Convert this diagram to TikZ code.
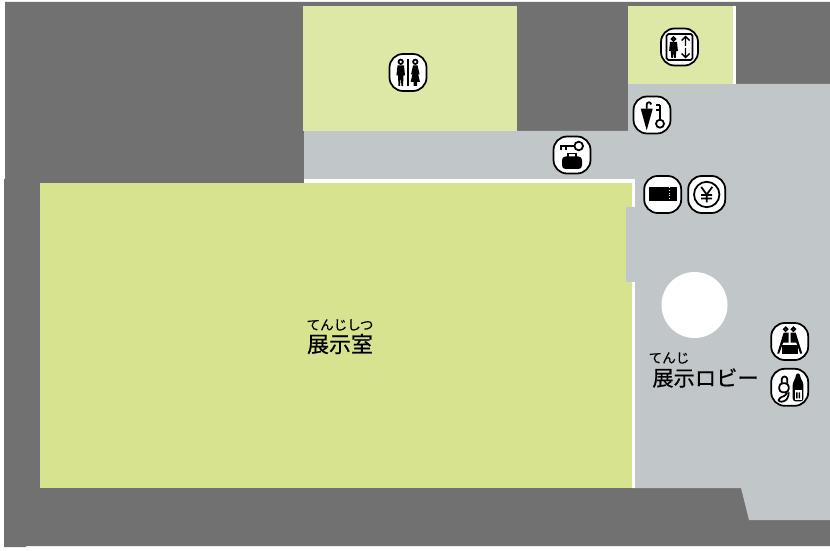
\documentclass[tikz,border=0pt]{standalone}
\usepackage{fontspec}
\newfontfamily\jpfont[FakeBold=.6]{Noto Sans CJK JP}
\newfontfamily\rubyfont[FakeBold=.3]{Noto Sans CJK JP}
\definecolor{wallgray}{HTML}{717171}
\definecolor{lobbygray}{HTML}{C1C6C9}
\definecolor{hallgreen}{HTML}{D7E38F}
\definecolor{roomgreen}{HTML}{DEE8A6}
\tikzset{
  iconbox/.style={draw=black,fill=white,line width=1pt,rounded corners=.27cm,minimum size=.74cm,inner sep=0pt},
  bigtext/.style={inner sep=0pt,font=\jpfont\fontsize{12.5}{13}\selectfont},
  lobbytext/.style={inner sep=0pt,font=\jpfont\fontsize{12.1}{13}\selectfont},
  rubytext/.style={inner sep=0pt,font=\rubyfont\fontsize{7.7}{8}\selectfont},
  glyph/.style={line width=1pt,draw=black},
  ring/.style={line width=1pt,draw=black,fill=white}
}
\begin{document}
\begin{tikzpicture}[x=.02cm,y=-.02cm]
\useasboundingbox (0,0) rectangle (830,550);
\fill[wallgray] (5,2) -- (830,2) -- (830,546) -- (26,546) -- (26,547) -- (4,547) -- (4,179) -- (5,179) -- cycle;
\fill[lobbygray] (304,131) -- (628,131) -- (628,84) -- (830,84) -- (830,520) -- (749,520) -- (741,488) -- (632,488) -- (632,183) -- (304,183) -- cycle;
\fill[white] (304,179) rectangle (635,183);
\fill[white] (632,179) rectangle (635,488);
\fill[hallgreen] (40,183) rectangle (632,488);
\fill[lobbygray] (626,207) rectangle (636,282);
\fill[roomgreen] (303,6) rectangle (517,131);
\fill[roomgreen] (628,6) rectangle (733,84);
\fill[white] (733,6) rectangle (736,84);
\fill[white] (694.5,305) circle (33);

\node[rubytext] (hallruby) at (340,325) {てんじしつ};
\node[bigtext] (hallname) at (340,344) {展示室};
\node[rubytext] (lobbyruby) at (669,358) {てんじ};
\node[lobbytext] (lobbyname) at (705.5,378) {展示ロビー};

\node[iconbox] (toilet) at (408,72.5) {};
\node[iconbox] (elevator) at (679.5,47) {};
\node[iconbox] (umbrella) at (652,115) {};
\node[iconbox] (locker) at (572,155) {};
\node[iconbox] (ticket) at (662.7,194.5) {};
\node[iconbox] (yen) at (706.7,194.5) {};
\node[iconbox] (rest) at (789.7,341.5) {};
\node[iconbox] (drink) at (789.7,387.3) {};

\begin{scope}[shift={(408,72.5)}]
\draw[glyph] (-7.3,-10.7) circle (2.2);
\draw[glyph] (7.3,-10.7) circle (2.2);
\draw[glyph] (0,-13) -- (0,13.5);
\fill (-10.5,-7) -- (-4,-7) -- (-3,3) -- (-4.5,3) -- (-5,13.5) -- (-6.6,13.5) -- (-7.2,4) -- (-8,13.5) -- (-9.5,13.5) -- (-10,3) -- (-11.6,3) -- cycle;
\fill (5,-7) -- (9.6,-7) -- (11.6,2) -- (10.2,2) -- (12,9.5) -- (9.2,9.5) -- (9.2,13.5) -- (5.6,13.5) -- (5.6,9.5) -- (2.6,9.5) -- (4.4,2) -- (3,2) -- cycle;
\end{scope}

\begin{scope}[shift={(679.5,47)}]
\draw[glyph,rounded corners=1pt] (-13,-13) rectangle (13,13);
\draw[glyph] (-6,-8) circle (1.9);
\fill (-9.5,-5) -- (-2.5,-5) -- (-1.6,4) -- (-3.2,4) -- (-3.8,11) -- (-5.4,11) -- (-6,5) -- (-6.6,11) -- (-8.2,11) -- (-8.8,4) -- (-10.4,4) -- cycle;
\draw[line width=.8pt] (6,-1) -- (6,-10.5) (2,-6.5) -- (6,-10.5) -- (10,-6.5);
\draw[line width=.8pt] (6,1) -- (6,10.5) (2,6.5) -- (6,10.5) -- (10,6.5);
\end{scope}

\begin{scope}[shift={(652,115)}]
\fill (-11.3,-6.3) -- (.7,-6.3) -- (-5.3,15.3) -- cycle;
\draw[glyph] (-5.3,-6.3) -- (-5.3,-10.5) arc (180:360:2.2);
\draw[glyph] (8,-9.7) -- (8,4.7) (8,-9.7) -- (3.5,-9.7) (8,-5) -- (3.5,-5);
\draw[ring] (8,8.7) circle (4);
\end{scope}

\begin{scope}[shift={(572,155)}]
\draw[ring] (6.7,-9) circle (4.3);
\draw[glyph] (2.4,-9) -- (-11.7,-9) (-11,-9) -- (-11,-5) (-6,-9) -- (-6,-5);
\draw[glyph] (-4.3,2.5) -- (-4.3,-1.5) -- (4.3,-1.5) -- (4.3,2.5);
\fill[rounded corners=2pt] (-10,1.5) rectangle (10,14);
\end{scope}

\begin{scope}[shift={(662.7,194.5)}]
\fill (-13.7,-7) rectangle (14,7);
\draw[white,line width=.5pt,densely dotted] (6.3,-7) -- (6.3,7);
\end{scope}

\begin{scope}[shift={(706.7,194.5)}]
\draw[glyph] (0,0) circle (12.7);
\draw[glyph] (-5.5,-7.5) -- (0,0) -- (5.5,-7.5) (0,0) -- (0,8) (-5.5,.5) -- (5.5,.5) (-5.5,4) -- (5.5,4);
\end{scope}

\begin{scope}[shift={(789.7,341.5)}]
\draw[glyph] (-4,-12.3) circle (1.8);
\draw[glyph] (3.7,-12.3) circle (1.8);
\fill (-6,-9) -- (-1.2,-9) -- (-1.2,1) -- (-6.5,1) -- (-10.5,12) -- (-12.5,12) -- cycle;
\fill (1,-9) -- (6,-9) -- (12.5,12) -- (10.5,12) -- (6.5,1) -- (1,1) -- cycle;
\fill (-8,3.5) rectangle (8.7,12);
\end{scope}

\begin{scope}[shift={(789.7,387.3)}]
\fill[rounded corners=1.5pt] (3,-5) -- (6,-9) -- (6,-14) -- (10.5,-14) -- (10.5,-9) -- (13.7,-5) -- (13.7,14) -- (3,14) -- cycle;
\fill[white] (4.8,2.7) rectangle (12,12.7);
\fill (6.5,5) rectangle (7.8,11) (9,5) rectangle (10.3,11);
\draw[glyph,rounded corners=2pt] (-10.5,-4) rectangle (-1,5);
\draw[glyph] (-8,-4) -- (-8,-8) arc (180:360:2.8) -- (-2.4,-4);
\draw[glyph] (-3,5) .. controls (-4,10) and (-7,8) .. (-10,11) .. controls (-13,14) and (-9,15) .. (-6,14) .. controls (-3,13) and (-1,10) .. (-1,5);
\end{scope}
\end{tikzpicture}
\end{document}
